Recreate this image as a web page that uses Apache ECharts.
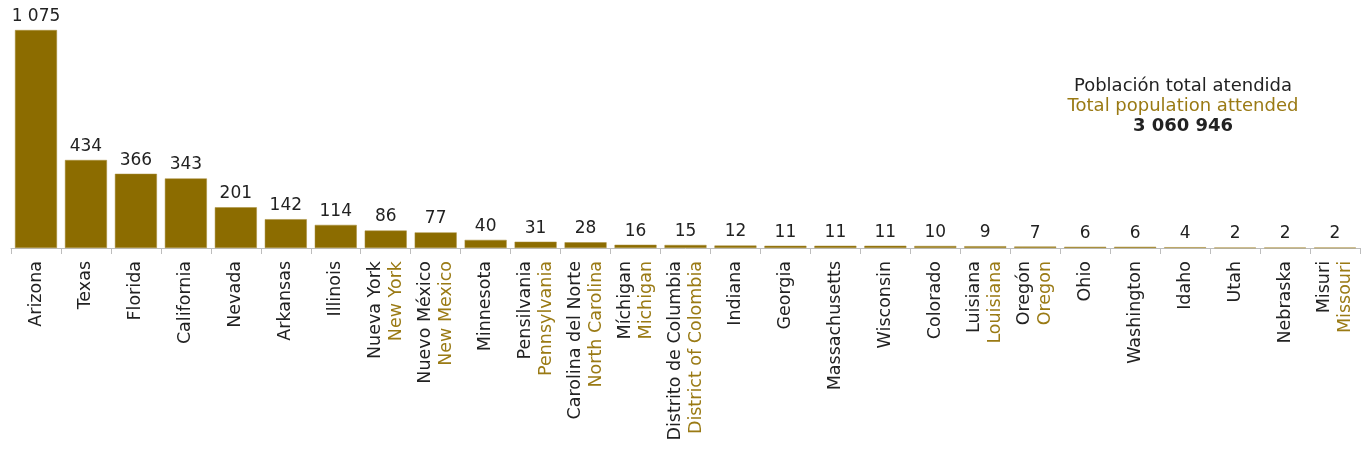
<!DOCTYPE html>
<html>
<head>
<meta charset="utf-8">
<script src="https://cdn.jsdelivr.net/npm/echarts@6/dist/echarts.min.js"></script>
<style>
  html, body { margin: 0; padding: 0; background: #fff; }
  #chart { width: 1366px; height: 460px; }
</style>
</head>
<body>
<div id="chart"></div>
<script>
const statesEs = [
  'Arizona', 'Texas', 'Florida', 'California', 'Nevada', 'Arkansas', 'Illinois',
  'Nueva York', 'Nuevo México', 'Minnesota', 'Pensilvania', 'Carolina del Norte',
  'Míchigan', 'Distrito de Columbia', 'Indiana', 'Georgia', 'Massachusetts',
  'Wisconsin', 'Colorado', 'Luisiana', 'Oregón', 'Ohio', 'Washington', 'Idaho',
  'Utah', 'Nebraska', 'Misuri',
];
const statesEn = [
  '', '', '', '', '', '', '',
  'New York', 'New Mexico', '', 'Pennsylvania', 'North Carolina',
  'Michigan', 'District of Colombia', '', '', '',
  '', '', 'Louisiana', 'Oregon', '', '', '',
  '', '', 'Missouri',
];
const values = [
  1075, 434, 366, 343, 201, 142, 114, 86, 77, 40, 31, 28, 16, 15, 12, 11, 11,
  11, 10, 9, 7, 6, 6, 4, 2, 2, 2,
];
const noteLines = ['Población total atendida', 'Total population attended', '3 060 946'];

const GOLD = '#8C6C00';
const GOLD_TEXT = '#9A7A14';
const FONT = '"DejaVu Sans", "Noto Sans", sans-serif';

// etiqueta del eje: español arriba, inglés debajo (cuando difiere)
const categories = statesEs.map((s, i) => (statesEn[i] ? s + '\n' + statesEn[i] : s));

const fmt = (v) => String(v).replace(/\B(?=(\d{3})+(?!\d))/g, ' ');

const chart = echarts.init(document.getElementById('chart'));
chart.setOption({
  backgroundColor: '#fff',
  animation: false,
  grid: { left: 11, right: 6, top: 30, bottom: 212 },
  xAxis: {
    type: 'category',
    data: categories,
    axisLine: { lineStyle: { color: '#bdbdbd', width: 1 } },
    axisTick: { show: true, length: 6, lineStyle: { color: '#bdbdbd' } },
    axisLabel: {
      rotate: 90,
      interval: 0,
      margin: 13,
      formatter: (v) => {
        const parts = v.split('\n');
        return parts.length > 1 ? '{es|' + parts[0] + '}\n{en|' + parts[1] + '}' : '{es|' + parts[0] + '}';
      },
      rich: {
        es: { color: '#222', fontSize: 17.5, fontFamily: FONT, lineHeight: 21 },
        en: { color: GOLD_TEXT, fontSize: 17.5, fontFamily: FONT, lineHeight: 21 },
      },
    },
  },
  yAxis: {
    type: 'value',
    min: 0,
    max: 1075,
    show: false,
    splitLine: { show: false },
  },
  series: [
    {
      type: 'bar',
      data: values,
      barWidth: 42,
      itemStyle: { color: GOLD, borderColor: '#a88e3c', borderWidth: 0.5 },
      label: {
        show: true,
        position: 'top',
        distance: 5,
        color: '#222',
        fontSize: 17,
        fontFamily: FONT,
        formatter: (p) => fmt(p.value),
      },
    },
  ],
  graphic: [
    {
      type: 'text',
      left: 1183 - 140,
      top: 77,
      style: {
        text: '{a|' + noteLines[0] + '}\n{b|' + noteLines[1] + '}\n{c|' + noteLines[2] + '}',
        width: 280,
        align: 'center',
        rich: {
          a: { fontSize: 18, fontFamily: FONT, fill: '#222', lineHeight: 20, width: 280, align: 'center' },
          b: { fontSize: 18, fontFamily: FONT, fill: GOLD_TEXT, lineHeight: 20, width: 280, align: 'center' },
          c: { fontSize: 18, fontFamily: FONT, fontWeight: 'bold', fill: '#222', lineHeight: 21, width: 280, align: 'center' },
        },
      },
    },
  ],
});
</script>
</body>
</html>
